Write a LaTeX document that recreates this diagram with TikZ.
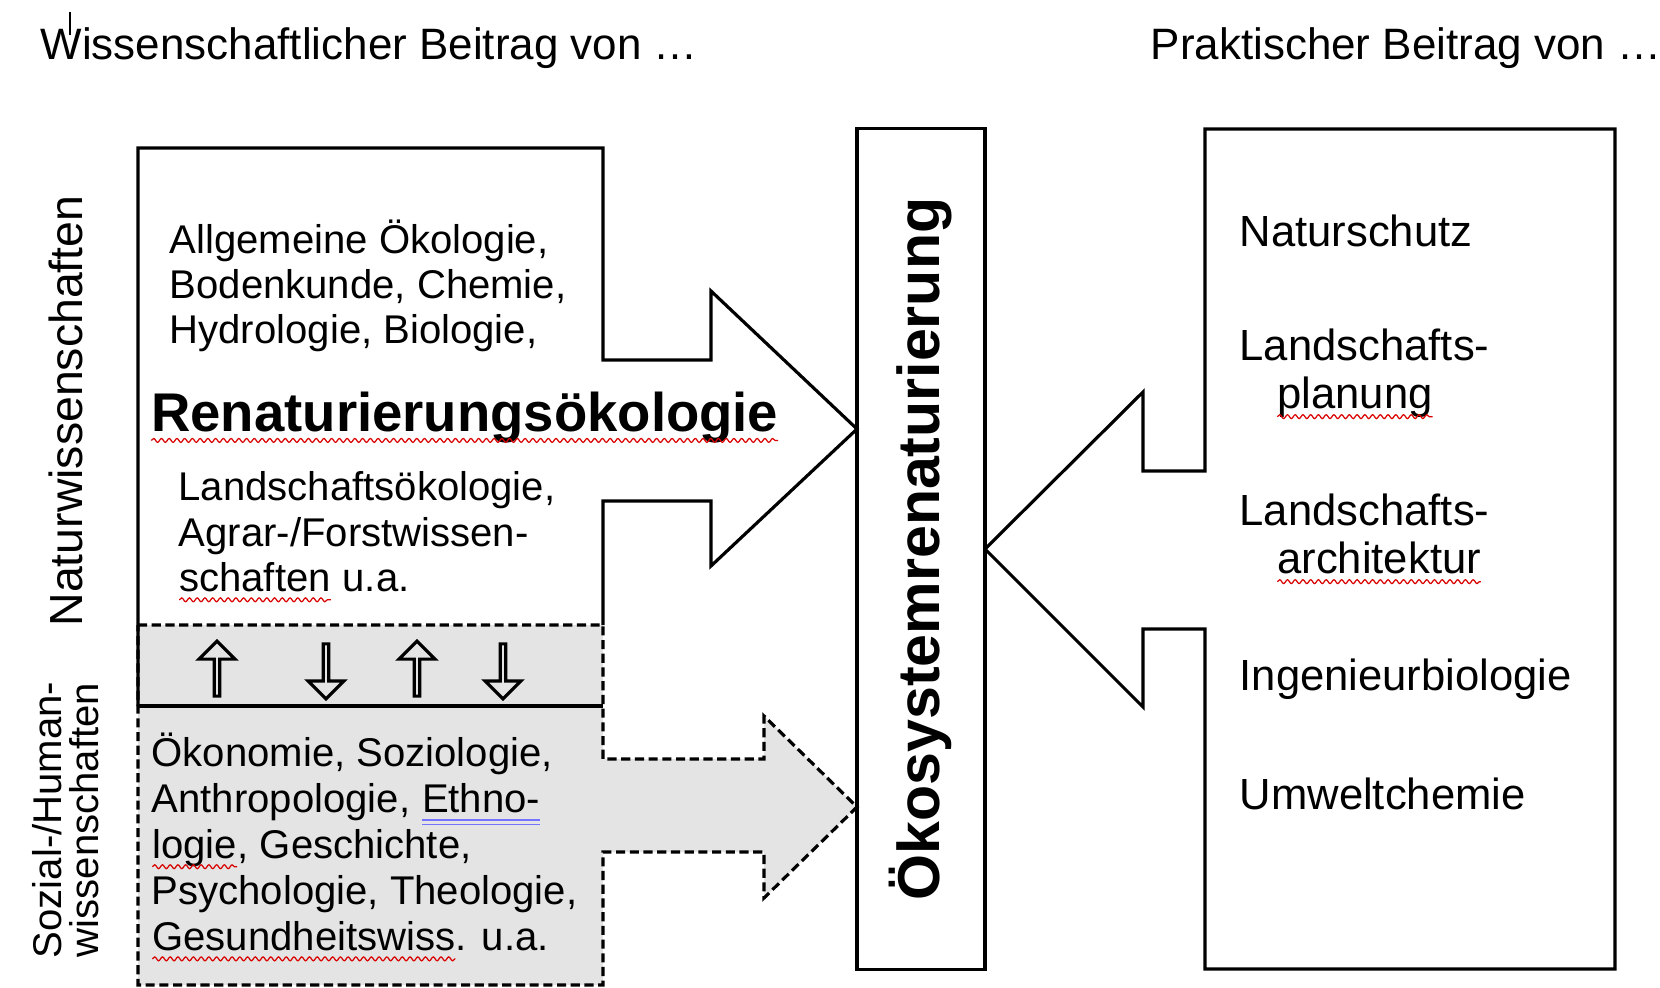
\documentclass[tikz,border=0pt]{standalone}
\usepackage{fontspec}
\setsansfont{Liberation Sans}
\usepackage{tikz}
\usetikzlibrary{shapes.arrows, decorations.pathmorphing}
\definecolor{panelgrey}{HTML}{E4E4E4}
\tikzset{
  box/.style = {draw=black, line width=0.9pt},
  dbox/.style = {box, dash pattern=on 2.6pt off 1.3pt, fill=panelgrey},
  txt/.style = {align=left, anchor=west, inner sep=0pt, font=\sffamily\fontsize{11.4}{12.9}\selectfont},
  rtxt/.style = {txt, font=\sffamily\fontsize{12.4}{13.6}\selectfont},
  htxt/.style = {txt, font=\sffamily\fontsize{12.5}{14}\selectfont},
  vtxt/.style = {align=center, inner sep=0pt, rotate=90, font=\sffamily\fontsize{11.4}{10.5}\selectfont},
  updown/.style = {box, single arrow, single arrow head extend=0.085cm, minimum width=0.36cm, minimum height=0.55cm, inner sep=0pt},
  wordnode/.style = {inner sep=0pt, outer sep=0pt, anchor=base west, draw=none, fill=none, rotate=0},
  wavy/.style = {red!85!black, line width=0.35pt, decorate, decoration={snake, amplitude=0.55pt, segment length=2.2pt}},
  dbl/.style = {blue!55, line width=0.35pt},
}
\newcommand\spellwave[1]{\tikz[baseline=(w.base)]{\node [wordnode] (w) {#1};
  \draw [wavy] ([yshift=-2.4pt]w.base west) -- ([yshift=-2.4pt]w.base east);}}
\newcommand\grammarline[1]{\tikz[baseline=(w.base)]{\node [wordnode] (w) {#1};
  \draw [dbl] ([yshift=-2.2pt]w.base west) -- ([yshift=-2.2pt]w.base east);
  \draw [dbl] ([yshift=-3.4pt]w.base west) -- ([yshift=-3.4pt]w.base east);}}

\begin{document}
\begin{tikzpicture}[x=0.01cm, y=-0.01cm]
\useasboundingbox (0,0) rectangle (1660,988);
\draw [line width=0.4pt] (70,12) -- (70,35);
\node [htxt] (wiss) at (40,48) {Wissenschaftlicher Beitrag von …};
\node [htxt] (prak) at (1150,48) {Praktischer Beitrag von …};

\draw [dbox] (138,625) -- (603,625) -- (603,759) -- (764,759) -- (764,716) -- (857,807)
  -- (764,898) -- (764,852) -- (603,852) -- (603,985) -- (138,985) -- cycle;
\draw [box] (138,706) -- (138,148) -- (603,148) -- (603,360) -- (711,360) -- (711,291)
  -- (857,429) -- (711,566) -- (711,501) -- (603,501) -- (603,625);
\draw [box] (138,706) -- (603,706);
\draw [box] (1205,471) -- (1205,129) -- (1615,129) -- (1615,969) -- (1205,969) -- (1205,629)
  -- (1143,629) -- (1143,707) -- (985,549) -- (1143,392) -- (1143,471) -- cycle;

\node [updown, rotate=90] (up1) at (217,670) {};
\node [updown, rotate=-90] (dn1) at (326,670) {};
\node [updown, rotate=90] (up2) at (417,670) {};
\node [updown, rotate=-90] (dn2) at (503,670) {};

\node [vtxt, font=\sffamily\fontsize{13.2}{14}\selectfont] (natw) at (66,411) {Naturwissenschaften};
\node [vtxt] (sozw) at (66,820) {Sozial-/Human-\\wissenschaften};

\node [txt] (natA) at (169,286) {Allgemeine Ökologie,\\Bodenkunde, Chemie,\\Hydrologie, Biologie,};
\node [txt, font=\sffamily\bfseries\fontsize{15.5}{17}\selectfont] (reno) at (150,418) {\spellwave{Renaturierungsökologie}};
\node [txt] (natB) at (178,537) {Landschaftsökologie,\\Agrar-/Forstwissen-\\\spellwave{schaften} u.a.};
\node [txt, font=\sffamily\fontsize{11.4}{13.1}\selectfont] (soz) at (151,847) {Ökonomie, Soziologie,\\Anthropologie, \grammarline{Ethno-}\\\spellwave{logie}, Geschichte,\\Psychologie, Theologie,\\\spellwave{Gesundheitswiss}. u.a.};

\node [box, rotate=90, minimum width=8.4cm, minimum height=1.28cm, inner sep=0pt,
  font=\sffamily\bfseries\fontsize{16.8}{18}\selectfont] (oeko) at (921,549) {Ökosystemrenaturierung};

\node [rtxt] (nschutz) at (1239,231) {Naturschutz};
\node [rtxt] (lplan) at (1239,374) {Landschafts-\\\hspace*{0.37cm}\spellwave{planung}};
\node [rtxt] (larch) at (1239,539) {Landschafts-\\\hspace*{0.37cm}\spellwave{architektur}};
\node [rtxt] (ingbio) at (1239,679) {Ingenieurbiologie};
\node [rtxt] (uchem) at (1239,794) {Umweltchemie};
\end{tikzpicture}
\end{document}
